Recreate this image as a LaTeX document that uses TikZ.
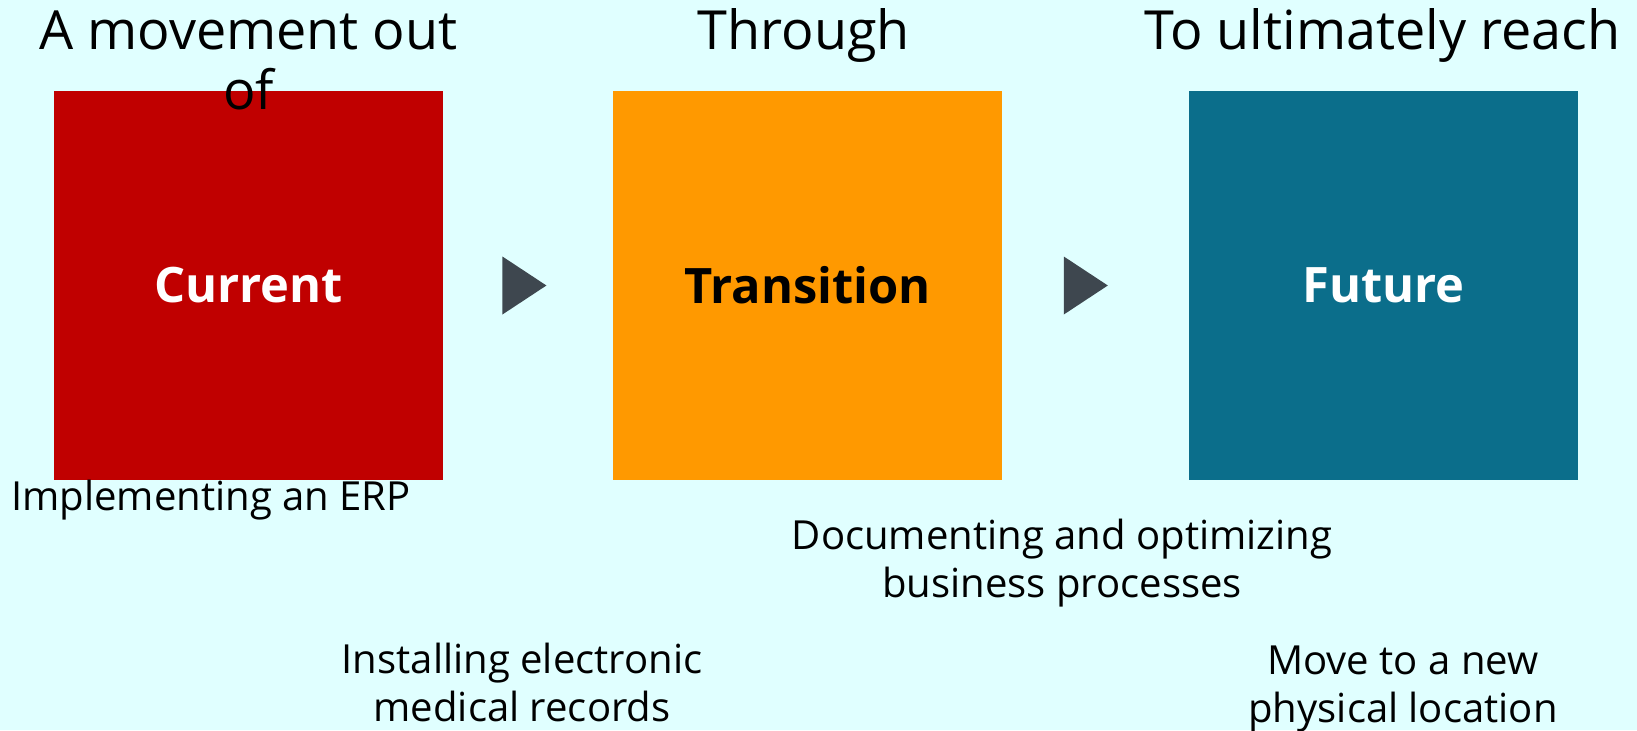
\documentclass[tikz,border=0pt]{standalone}
\usepackage{fontspec}
\setmainfont{Open Sans}
\usepackage{tikz}
\usetikzlibrary{positioning,calc,shapes.geometric}
\definecolor{ccbg}{RGB}{224,255,255}
\definecolor{ccred}{RGB}{192,0,0}
\definecolor{ccorange}{RGB}{255,153,0}
\definecolor{ccblue}{RGB}{11,110,139}
\definecolor{ccgrey}{RGB}{62,71,79}

\begin{document}
\begin{tikzpicture}[
  stage/.style={minimum width=3.89cm, minimum height=3.89cm, inner sep=0pt, font=\fontsize{13.9}{16}\selectfont\bfseries},
  pointer/.style={isosceles triangle, isosceles triangle stretches, fill=ccgrey, minimum width=0.58cm, minimum height=0.44cm, inner sep=0pt},
  heading/.style={align=center, font=\fontsize{15.35}{17}\selectfont},
  example/.style={align=center, font=\fontsize{11.4}{13.6}\selectfont}
]
  \fill[ccbg] (0,0) rectangle (16.37,-7.30);
  \useasboundingbox (0,0) rectangle (16.37,-7.30);

  % the three stages
  \node[stage, fill=ccred, text=white] (cur) at (2.485,-2.855) {Current};
  \node[stage, fill=ccorange, right=1.69cm of cur] (tra) {Transition};
  \node[stage, fill=ccblue, text=white, right=1.85cm of tra] (fut) {Future};

  \node[pointer, right=0.58cm of cur] (p1) {};
  \node[pointer, right=0.60cm of tra] (p2) {};

  % headings over the stages (base is the last line)
  \node[heading, anchor=base] (h1) at ($(cur.north)+(0,-0.19)$) {A movement out\\of};
  \node[heading, anchor=base] (h2) at ($(tra.north)+(-0.04,0.41)$) {Through};
  \node[heading, anchor=base] (h3) at ($(fut.north)+(-0.01,0.41)$) {To ultimately reach};

  % examples
  \node[example, anchor=base] (e1) at (2.11,-5.10) {Implementing an ERP};
  \node[example, anchor=base] (e2) at (10.62,-5.97) {Documenting and optimizing\\business processes};
  \node[example, anchor=base] (e3) at (5.22,-7.21) {Installing electronic\\medical records};
  \node[example, anchor=base] (e4) at (14.03,-7.22) {Move to a new\\physical location};
\end{tikzpicture}
\end{document}
